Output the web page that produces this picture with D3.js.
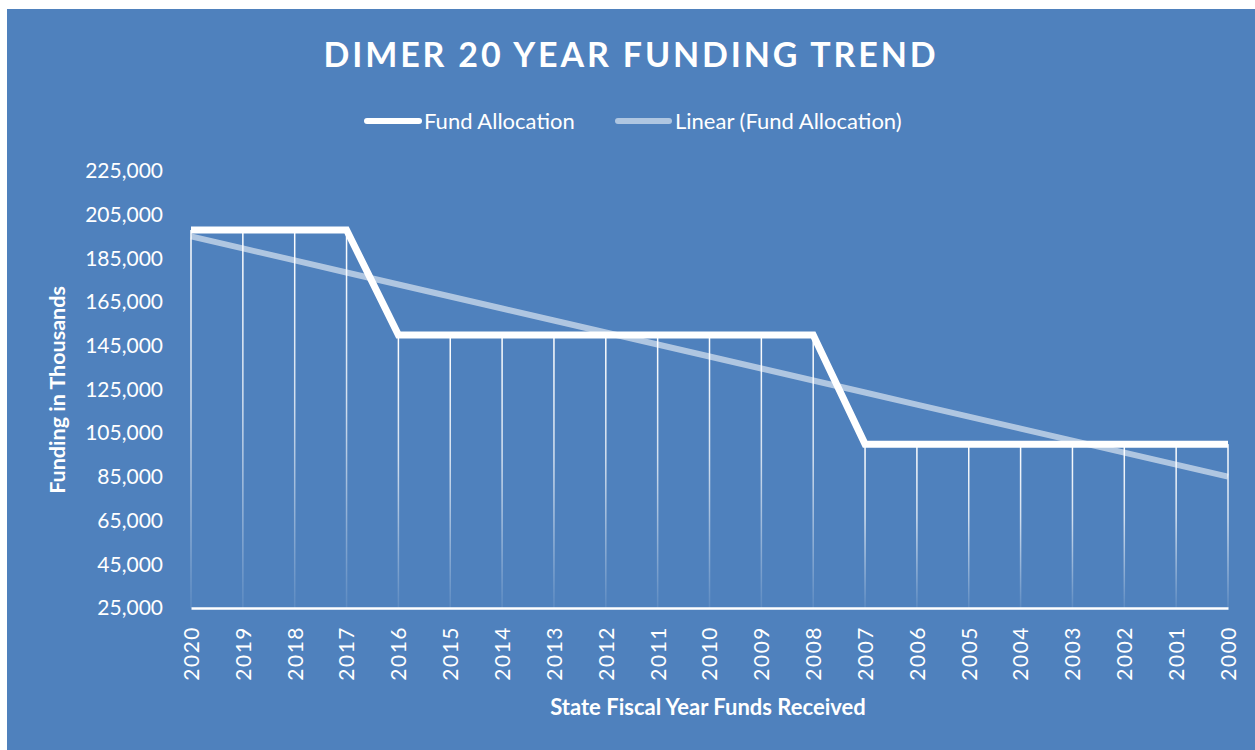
<!DOCTYPE html>
<html>
<head>
<meta charset="utf-8">
<script src="https://cdn.jsdelivr.net/npm/d3@7"></script>
<style>
  body { margin: 0; background: #fff; }
  svg text { font-family: Lato, "Open Sans", sans-serif; fill: #fff; }
</style>
</head>
<body>
<div id="chart"></div>
<script>
// data (thousands of dollars)
const years = ["2020", "2019", "2018", "2017", "2016", "2015", "2014", "2013", "2012", "2011",
  "2010", "2009", "2008", "2007", "2006", "2005", "2004", "2003", "2002", "2001", "2000"];
const funding = [198000, 198000, 198000, 198000, 150000, 150000, 150000, 150000, 150000, 150000,
  150000, 150000, 150000, 100000, 100000, 100000, 100000, 100000, 100000, 100000, 100000];
const yTicks = [25000, 45000, 65000, 85000, 105000, 125000, 145000, 165000, 185000, 205000, 225000];

const W = 1255, H = 750;
const svg = d3.select("#chart").append("svg")
  .attr("width", W).attr("height", H);

// chart area background
svg.append("rect")
  .attr("x", 7).attr("y", 9)
  .attr("width", W - 7).attr("height", H - 9)
  .attr("fill", "#4f81bd");

const x = d3.scalePoint().domain(years).range([191, 1228]);
const y = d3.scaleLinear().domain([25000, 225000]).range([608, 171]);

// gradient for the drop lines
const defs = svg.append("defs");
const grad = defs.append("linearGradient")
  .attr("id", "dropGrad")
  .attr("x1", 0).attr("y1", 0).attr("x2", 0).attr("y2", 1);
grad.append("stop").attr("offset", "0%").attr("stop-color", "#fff").attr("stop-opacity", 1);
grad.append("stop").attr("offset", "45%").attr("stop-color", "#fff").attr("stop-opacity", 0.75);
grad.append("stop").attr("offset", "100%").attr("stop-color", "#fff").attr("stop-opacity", 0.08);

// drop lines
svg.append("g")
  .selectAll("rect")
  .data(years)
  .join("rect")
  .attr("x", d => x(d) - 0.75)
  .attr("y", (d, i) => y(funding[i]))
  .attr("width", 1.5)
  .attr("height", (d, i) => y(25000) - y(funding[i]))
  .attr("fill", "url(#dropGrad)");

// y axis
const yAxis = svg.append("g")
  .attr("transform", "translate(172,0)")
  .call(d3.axisLeft(y).tickValues(yTicks).tickSize(0).tickPadding(9).tickFormat(d3.format(",")));
yAxis.select(".domain").remove();
yAxis.selectAll("text")
  .style("font-size", "21px")
  .attr("fill", "#fff");

// x axis
const xAxis = svg.append("g")
  .attr("transform", `translate(0,${y(25000)})`)
  .call(d3.axisBottom(x).tickSize(0));
xAxis.select(".domain")
  .attr("stroke", "#fff")
  .attr("stroke-width", 2.5);
xAxis.selectAll("text")
  .attr("fill", "#fff")
  .style("font-size", "21px")
  .style("letter-spacing", "1.5px")
  .attr("text-anchor", "end")
  .attr("transform", "rotate(-90)")
  .attr("x", -18)
  .attr("y", 0)
  .attr("dy", "0.35em");

// linear trend (least squares on the series)
const n = funding.length;
const mx = d3.mean(d3.range(n));
const my = d3.mean(funding);
const slope = d3.sum(d3.range(n), i => (i - mx) * (funding[i] - my)) /
  d3.sum(d3.range(n), i => (i - mx) * (i - mx));
const trend = d3.range(n).map(i => my + slope * (i - mx));

svg.append("path")
  .datum(trend)
  .attr("fill", "none")
  .attr("stroke", "#fff")
  .attr("stroke-opacity", 0.55)
  .attr("stroke-width", 6)
  .attr("d", d3.line()
    .x((d, i) => x(years[i]))
    .y(d => y(d)));

// fund allocation line
svg.append("path")
  .datum(funding)
  .attr("fill", "none")
  .attr("stroke", "#fff")
  .attr("stroke-width", 7)
  .attr("stroke-linejoin", "miter")
  .attr("d", d3.line()
    .x((d, i) => x(years[i]))
    .y(d => y(d)));

// title
const title = svg.append("text")
  .attr("x", 631).attr("y", 55)
  .attr("text-anchor", "middle")
  .attr("dy", "0.35em")
  .style("font-size", "34px")
  .style("font-weight", "bold")
  .text("DIMER 20 YEAR FUNDING TREND");
const tw = title.node().getComputedTextLength();
title.style("letter-spacing", ((615 - tw) / 27) + "px");

// legend
const legend = svg.append("g");
legend.append("line")
  .attr("x1", 367).attr("x2", 419).attr("y1", 121).attr("y2", 121)
  .attr("stroke", "#fff").attr("stroke-width", 6).attr("stroke-linecap", "round");
legend.append("text")
  .attr("x", 424).attr("y", 121).attr("dy", "0.35em")
  .style("font-size", "22px")
  .text("Fund Allocation");
legend.append("line")
  .attr("x1", 618).attr("x2", 669).attr("y1", 121).attr("y2", 121)
  .attr("stroke", "#fff").attr("stroke-opacity", 0.55)
  .attr("stroke-width", 6).attr("stroke-linecap", "round");
legend.append("text")
  .attr("x", 675).attr("y", 121).attr("dy", "0.35em")
  .style("font-size", "22px")
  .text("Linear (Fund Allocation)");

// axis titles
svg.append("text")
  .attr("transform", "translate(57,390) rotate(-90)")
  .attr("text-anchor", "middle")
  .attr("dy", "0.35em")
  .style("font-size", "21.5px")
  .style("font-weight", "bold")
  .text("Funding in Thousands");

svg.append("text")
  .attr("x", 708).attr("y", 707)
  .attr("text-anchor", "middle")
  .attr("dy", "0.35em")
  .style("font-size", "22px")
  .style("font-weight", "bold")
  .text("State Fiscal Year Funds Received");
</script>
</body>
</html>
